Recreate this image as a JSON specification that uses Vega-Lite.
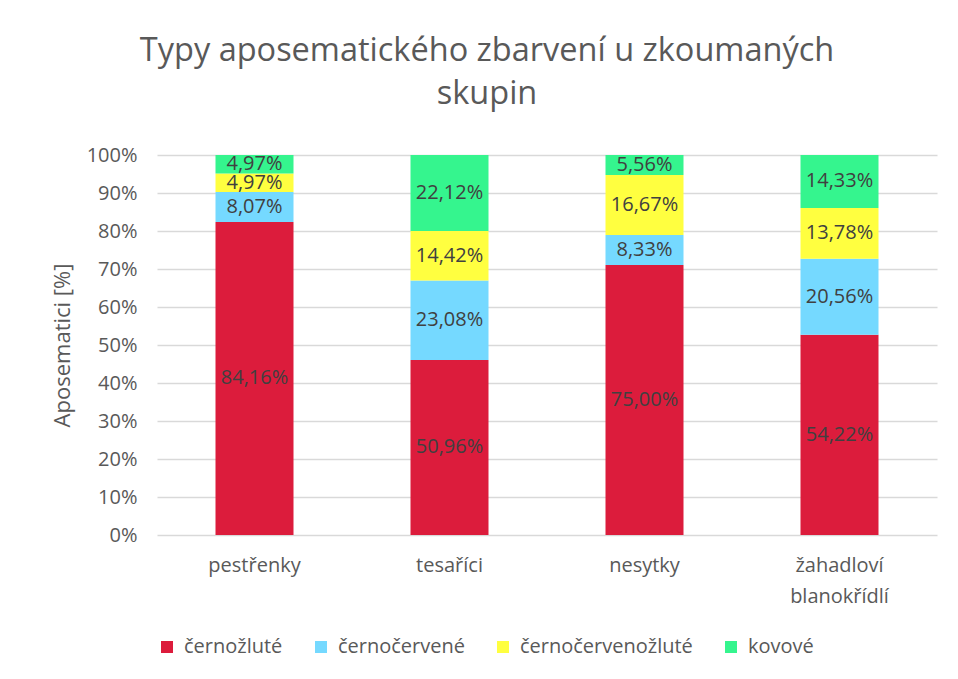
{
  "$schema": "https://vega.github.io/schema/vega-lite/v6.json",
  "autosize": {"type": "none"},
  "width": 780,
  "height": 380,
  "padding": {"left": 157, "top": 155, "right": 21, "bottom": 144},
  "background": "white",
  "title": {
    "text": ["Typy aposematického zbarvení u zkoumaných", "skupin"],
    "anchor": "middle",
    "frame": "group",
    "dx": -60,
    "offset": 35,
    "fontSize": 32.5,
    "font": "Open Sans",
    "fontWeight": "normal",
    "color": "#595959",
    "lineHeight": 43
  },
  "config": {
    "locale": {"number": {"decimal": ",", "thousands": " ", "grouping": [3], "currency": ["", " Kč"]}},
    "font": "Open Sans",
    "view": {"stroke": null},
    "axisY": {
      "titleFontSize": 22,
      "titleFontWeight": "normal",
      "titleColor": "#595959",
      "titlePadding": 12,
      "labelOverlap": false,
      "labelFontSize": 20,
      "labelColor": "#595959",
      "labelPadding": 20,
      "domain": false,
      "ticks": false,
      "gridColor": "#d9d9d9",
      "gridWidth": 1.5
    }
  },
  "data": {
    "values": [
      {"skupina": "pestřenky", "typ": "černožluté", "ord": 1, "podil": 0.8416},
      {"skupina": "pestřenky", "typ": "černočervené", "ord": 2, "podil": 0.0807},
      {"skupina": "pestřenky", "typ": "černočervenožluté", "ord": 3, "podil": 0.0497},
      {"skupina": "pestřenky", "typ": "kovové", "ord": 4, "podil": 0.0497},
      {"skupina": "tesaříci", "typ": "černožluté", "ord": 1, "podil": 0.5096},
      {"skupina": "tesaříci", "typ": "černočervené", "ord": 2, "podil": 0.2308},
      {"skupina": "tesaříci", "typ": "černočervenožluté", "ord": 3, "podil": 0.1442},
      {"skupina": "tesaříci", "typ": "kovové", "ord": 4, "podil": 0.2212},
      {"skupina": "nesytky", "typ": "černožluté", "ord": 1, "podil": 0.75},
      {"skupina": "nesytky", "typ": "černočervené", "ord": 2, "podil": 0.0833},
      {"skupina": "nesytky", "typ": "černočervenožluté", "ord": 3, "podil": 0.1667},
      {"skupina": "nesytky", "typ": "kovové", "ord": 4, "podil": 0.0556},
      {"skupina": "žahadloví blanokřídlí", "typ": "černožluté", "ord": 1, "podil": 0.5422},
      {"skupina": "žahadloví blanokřídlí", "typ": "černočervené", "ord": 2, "podil": 0.2056},
      {"skupina": "žahadloví blanokřídlí", "typ": "černočervenožluté", "ord": 3, "podil": 0.1378},
      {"skupina": "žahadloví blanokřídlí", "typ": "kovové", "ord": 4, "podil": 0.1433}
    ]
  },
  "transform": [
    {"stack": "podil", "groupby": ["skupina"], "sort": [{"field": "ord", "order": "ascending"}], "offset": "normalize", "as": ["y0", "y1"]},
    {"calculate": "(datum.y0 + datum.y1) / 2", "as": "ymid"}
  ],
  "encoding": {
    "x": {
      "field": "skupina",
      "type": "nominal",
      "sort": ["pestřenky", "tesaříci", "nesytky", "žahadloví blanokřídlí"],
      "scale": {"paddingInner": 0.6, "paddingOuter": 0.3},
      "axis": {
        "title": null,
        "labelAngle": 0,
        "labelExpr": "split(datum.label, ' ')",
        "labelFontSize": 20,
        "labelColor": "#595959",
        "labelPadding": 20,
        "labelLineHeight": 31,
        "domain": false,
        "ticks": false
      }
    }
  },
  "layer": [
    {
      "mark": {"type": "bar"},
      "encoding": {
        "y": {
          "field": "y0",
          "type": "quantitative",
          "scale": {"domain": [0, 1]},
          "axis": {
            "title": "Aposematici [%]",
            "format": "%",
            "values": [0, 0.1, 0.2, 0.3, 0.4, 0.5, 0.6, 0.7, 0.8, 0.9, 1]
          }
        },
        "y2": {"field": "y1"},
        "color": {
          "field": "typ",
          "type": "nominal",
          "scale": {
            "domain": ["černožluté", "černočervené", "černočervenožluté", "kovové"],
            "range": ["#dc1c3c", "#75d9ff", "#ffff40", "#35f58e"]
          },
          "legend": {
            "title": null,
            "orient": "bottom",
            "direction": "horizontal",
            "symbolType": "square",
            "symbolSize": 144,
            "symbolStrokeWidth": 0,
            "labelFontSize": 20,
            "labelColor": "#595959",
            "labelOffset": 7,
            "labelLimit": 400,
            "columnPadding": 28,
            "offset": 31
          }
        }
      }
    },
    {
      "mark": {"type": "text", "fontSize": 20, "color": "#404040"},
      "encoding": {
        "y": {
          "field": "ymid",
          "type": "quantitative",
          "axis": {
            "title": "Aposematici [%]",
            "format": "%",
            "values": [0, 0.1, 0.2, 0.3, 0.4, 0.5, 0.6, 0.7, 0.8, 0.9, 1]
          }
        },
        "text": {"field": "podil", "type": "quantitative", "format": ".2%"}
      }
    }
  ]
}
